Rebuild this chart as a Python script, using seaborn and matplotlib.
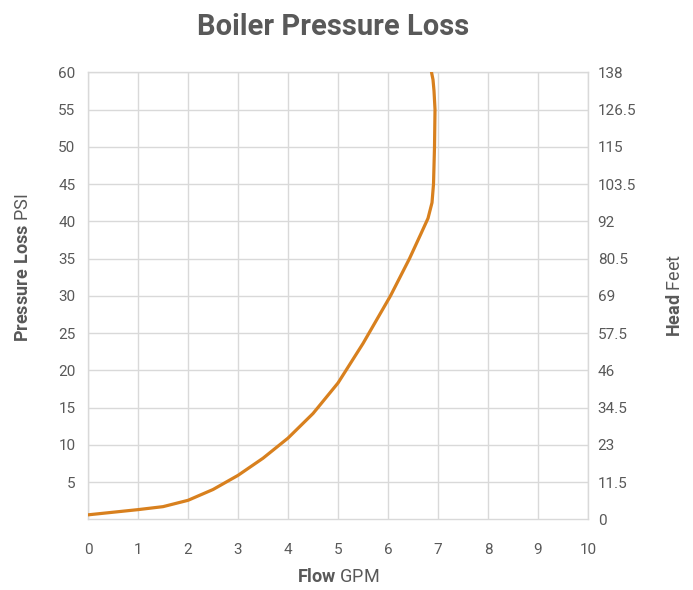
import matplotlib
matplotlib.use("Agg")
import matplotlib.pyplot as plt
import seaborn as sns
import pandas as pd

# ---- data ----
flow_gpm = [0, 0.5, 1, 1.5, 2, 2.5, 3, 3.5, 4, 4.5, 5, 5.5, 6.05, 6.43,
            6.65, 6.8, 6.88, 6.91, 6.93, 6.94, 6.92, 6.9, 6.87]
pressure_psi = [0.6, 0.95, 1.3, 1.7, 2.55, 4.0, 5.9, 8.2, 10.9, 14.2, 18.3,
                23.6, 30, 35, 38.2, 40.4, 42.5, 45, 50, 55, 57.5, 59, 60]
x_ticks = list(range(0, 11))
left_ticks = [5, 10, 15, 20, 25, 30, 35, 40, 45, 50, 55, 60]
right_ticks = [0, 11.5, 23, 34.5, 46, 57.5, 69, 80.5, 92, 103.5, 115, 126.5, 138]
right_labels = ["0", "11.5", "23", "34.5", "46", "57.5", "69", "80.5", "92",
                "103.5", "115", "126.5", "138"]

df = pd.DataFrame({"Flow": flow_gpm, "Pressure": pressure_psi})

sns.set_theme(style="white")
fam = "Roboto"
plt.rcParams["font.family"] = [fam, "DejaVu Sans"]
plt.rcParams["mathtext.fontset"] = "custom"
plt.rcParams["mathtext.bf"] = f"{fam}:bold"
plt.rcParams["mathtext.rm"] = fam

grey = "#595959"
grid_c = "#D9D9D9"
line_c = "#D8801E"

fig = plt.figure(figsize=(6.93, 5.90), dpi=100)
ax = fig.add_axes([0.127, 0.1198, 0.7215, 0.7577])

sns.lineplot(data=df, x="Flow", y="Pressure", sort=False, estimator=None,
             color=line_c, linewidth=2.3, ax=ax, zorder=3,
             solid_joinstyle="round", solid_capstyle="round")

ax.set_xlim(0, 10)
ax.set_ylim(0, 60)
ax.set_xticks(x_ticks)
ax.set_yticks(left_ticks)
ax.grid(True, color=grid_c, linewidth=1.0)
for s in ax.spines.values():
    s.set_visible(True)
    s.set_color(grid_c)
    s.set_linewidth(1.0)
ax.tick_params(axis="x", length=0, pad=17, labelsize=11, labelcolor=grey)
ax.tick_params(axis="y", length=0, pad=9, labelsize=11, labelcolor=grey)
ax.set_xlabel(r"$\bf{Flow}$ GPM", fontsize=13, color=grey, labelpad=8)
ax.set_ylabel(r"$\bf{Pressure\ Loss}$ PSI", fontsize=13, color=grey)
ax.yaxis.set_label_coords(-0.113, 0.564)

ax2 = ax.twinx()
ax2.set_ylim(0, 138)
ax2.set_yticks(right_ticks)
ax2.set_yticklabels(right_labels)
ax2.tick_params(axis="y", length=0, pad=7, labelsize=11, labelcolor=grey)
for s in ax2.spines.values():
    s.set_visible(False)
ax2.set_ylabel(r"$\bf{Head}$ Feet", fontsize=13, color=grey, labelpad=21)

fig.text(0.48, 0.955, "Boiler Pressure Loss", ha="center", va="center",
         fontsize=21, fontweight="bold", color=grey)

fig.savefig("out.png", dpi=100, facecolor="white")
